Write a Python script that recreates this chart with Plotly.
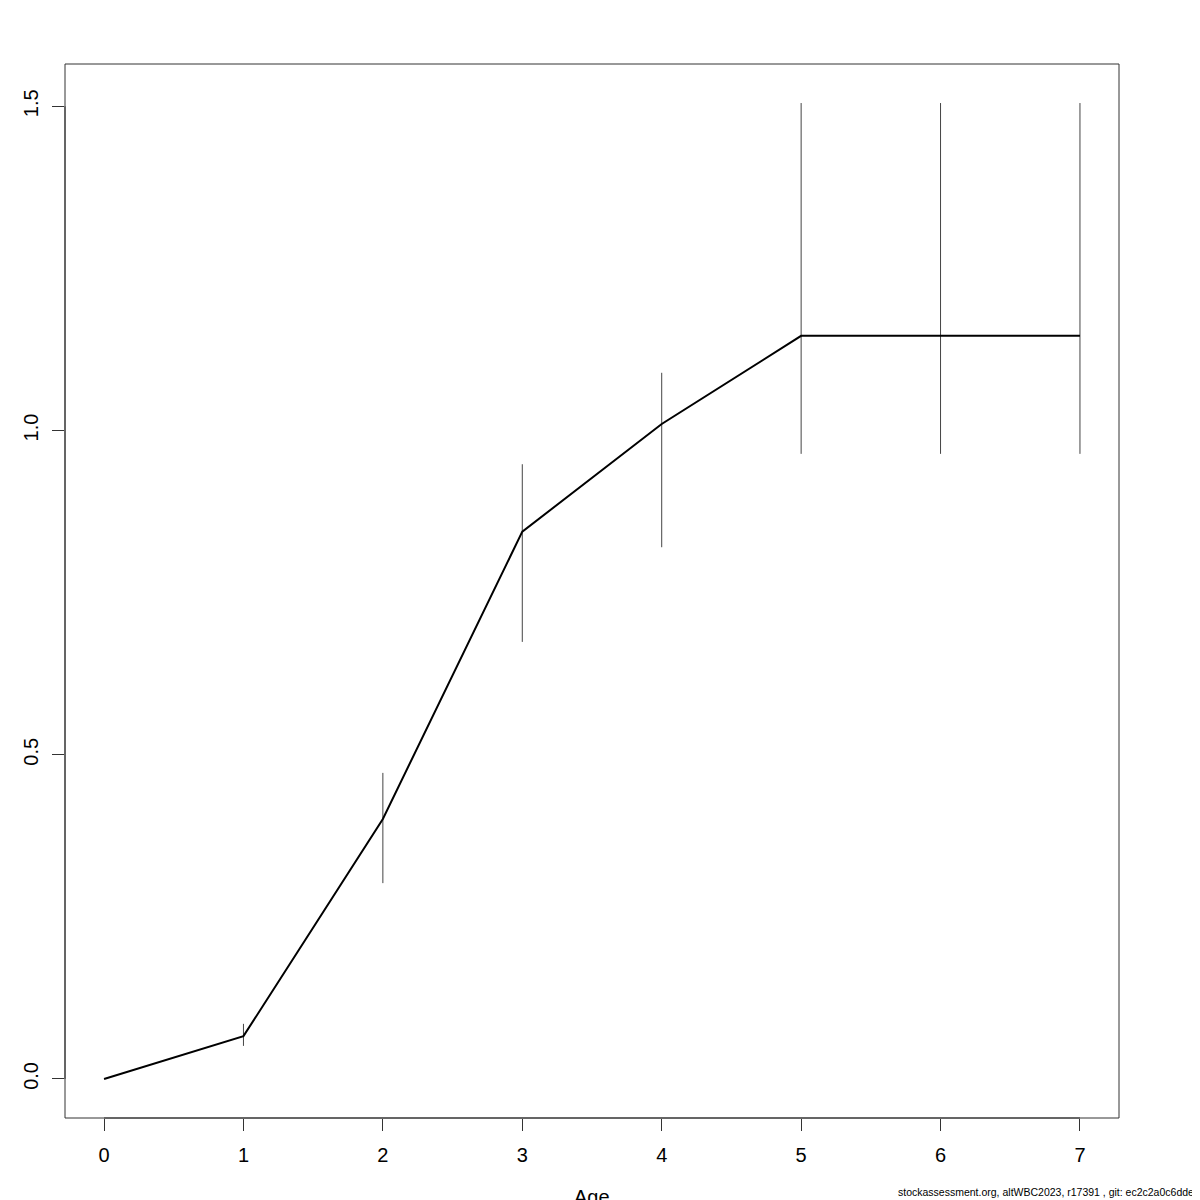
import plotly.graph_objects as go

ages = [0, 1, 2, 3, 4, 5, 6, 7]
estimate = [0.0, 0.066, 0.401, 0.844, 1.010, 1.146, 1.146, 1.146]
lower = [0.0, 0.051, 0.302, 0.674, 0.820, 0.964, 0.964, 0.964]
upper = [0.0, 0.085, 0.472, 0.948, 1.089, 1.505, 1.505, 1.505]
x_ticks = [0, 1, 2, 3, 4, 5, 6, 7]
y_ticks = [0.0, 0.5, 1.0, 1.5]
y_tick_text = ["0.0", "0.5", "1.0", "1.5"]

err_plus = [u - e for u, e in zip(upper, estimate)]
err_minus = [e - l for e, l in zip(estimate, lower)]

fig = go.Figure()
# CI bars (age 0 has none)
fig.add_trace(go.Scatter(
    x=ages[1:], y=estimate[1:], mode="markers",
    marker=dict(size=0.1, color="rgba(0,0,0,0)"),
    error_y=dict(type="data", symmetric=False, array=err_plus[1:], arrayminus=err_minus[1:],
                 width=0, thickness=1, color="#444444"),
    showlegend=False, hoverinfo="skip"))
fig.add_trace(go.Scatter(x=ages, y=estimate, mode="lines",
                         line=dict(color="black", width=2), showlegend=False))

xmin, xmax = min(x_ticks), max(x_ticks)
xpad = 0.04 * (xmax - xmin)
ymin, ymax = min(lower), max(upper)
ypad = 0.04 * (ymax - ymin)

font = "Liberation Sans, Arial, sans-serif"
# page body has an 8px default margin, so the figure is 1192 and offset by 8px
fig.update_layout(
    width=1192, height=1192,
    margin=dict(l=57, r=81, t=56, b=82),
    plot_bgcolor="white", paper_bgcolor="white",
    font=dict(family=font, size=20, color="black"),
    xaxis=dict(range=[xmin - xpad, xmax + xpad], tickvals=x_ticks, ticks="outside",
               ticklen=12, tickwidth=1, tickcolor="#333", showgrid=False, zeroline=False,
               showline=False, tickfont=dict(size=20), ticklabelstandoff=7),
    yaxis=dict(range=[ymin - ypad, ymax + ypad], tickvals=y_ticks, ticktext=y_tick_text,
               ticks="outside", ticklen=12, tickwidth=1, tickcolor="#333", showgrid=False,
               zeroline=False, showline=False, tickangle=-90, tickfont=dict(size=20),
               ticklabelstandoff=6),
)
# plot box
fig.add_shape(type="rect", xref="paper", yref="paper", x0=0, y0=0, x1=1, y1=1,
              line=dict(color="#333", width=1))
# axis lines spanning the tick range
fig.add_shape(type="line", xref="x", yref="paper", x0=xmin, x1=xmax, y0=0, y1=0,
              line=dict(color="#333", width=1))
fig.add_shape(type="line", xref="paper", yref="y", x0=0, x1=0, y0=min(y_ticks), y1=max(y_ticks),
              line=dict(color="#333", width=1))

fig.add_annotation(text="Age", xref="paper", yref="paper", x=0.5, y=0, yanchor="top",
                   yshift=-66, showarrow=False, font=dict(size=20))
fig.add_annotation(text="stockassessment.org, altWBC2023, r17391 , git: ec2c2a0c6dde",
                   xref="paper", yref="paper", x=1, y=0, xanchor="right", yanchor="bottom",
                   xshift=77, yshift=-82, showarrow=False, font=dict(size=10.5))

fig.write_html("out.html")
